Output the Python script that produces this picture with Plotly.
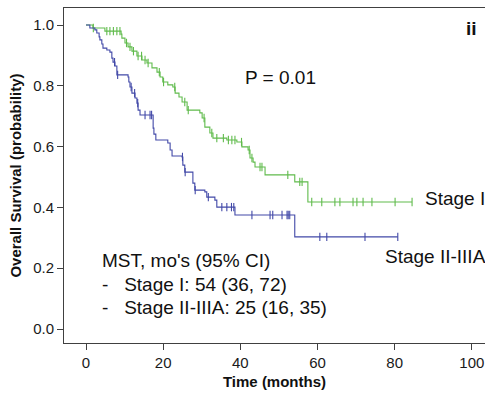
import plotly.graph_objects as go

# Stage I (green) Kaplan-Meier steps: time (months), survival after step
stage1_t = [0, 1.8, 4.9, 9.1, 9.3, 10.1, 10.9, 11.9, 13.2, 14.5, 15.8, 17.1, 18.4, 19.2, 19.9,
            21.2, 22.5, 23.1, 24.1, 24.9, 26.2, 29.5, 30.1, 30.8, 32.1, 32.9, 36.5, 39.1, 40.4,
            42.0, 42.5, 43.3, 43.8, 46.4, 54.1, 57.5, 84.5]
stage1_s = [1.0, 0.990, 0.980, 0.970, 0.957, 0.941, 0.928, 0.914, 0.898, 0.885, 0.875, 0.859, 0.845,
            0.829, 0.8125, 0.803, 0.796, 0.776, 0.763, 0.747, 0.720, 0.711, 0.694, 0.664, 0.645,
            0.628, 0.622, 0.615, 0.599, 0.589, 0.5625, 0.549, 0.533, 0.507, 0.484, 0.418, 0.418]
stage1_cens = [1.9, 5.4, 6.2, 7.1, 8.0, 8.8, 10.5, 11.4, 12.3, 13.5, 14.4, 15.3, 16.1, 19.0, 20.1,
               23.0, 25.6, 26.5, 30.6, 32.6, 33.9, 35.6, 36.9, 37.8, 38.6, 40.3, 42.3, 43.0, 45.1,
               45.6, 52.3, 55.4, 56.0, 58.5, 61.1, 64.5, 65.8, 69.2, 70.2, 71.8, 74.1, 80.1, 84.5]

# Stage II-IIIA (blue)
stage2_t = [0, 1.0, 2.3, 2.8, 3.4, 3.6, 4.1, 4.4, 5.4, 6.2, 6.7, 7.0, 7.5, 8.0, 10.9, 11.1, 11.4,
            11.9, 12.7, 13.2, 13.5, 14.0, 17.4, 17.6, 18.1, 21.2, 21.8, 22.3, 24.9, 25.1, 25.6,
            27.7, 28.2, 30.8, 31.3, 33.4, 33.9, 38.6, 54.1, 80.8]
stage2_s = [1.0, 0.990, 0.984, 0.974, 0.961, 0.951, 0.9375, 0.924, 0.918, 0.911, 0.891, 0.878,
            0.865, 0.836, 0.829, 0.8125, 0.796, 0.776, 0.760, 0.743, 0.720, 0.704, 0.661, 0.641,
            0.622, 0.612, 0.589, 0.569, 0.566, 0.539, 0.516, 0.480, 0.457, 0.451, 0.434, 0.424,
            0.401, 0.375, 0.303, 0.303]
stage2_cens = [7.4, 8.2, 11.7, 12.6, 13.4, 15.3, 16.6, 17.0, 25.0, 25.7, 28.3, 31.7, 35.2, 36.5,
               37.7, 38.3, 43.0, 47.7, 48.4, 50.8, 52.1, 52.4, 52.8, 60.6, 62.4, 72.3, 80.8]

x_ticks = [0, 20, 40, 60, 80, 100]
y_ticks = [0.0, 0.2, 0.4, 0.6, 0.8, 1.0]
y_tick_labels = ["0.0", "0.2", "0.4", "0.6", "0.8", "1.0"]

mst_lines = ["MST, mo's (95% CI)", "-   Stage I: 54 (36, 72)", "-   Stage II-IIIA: 25 (16, 35)"]

GREEN = "#60bb4c"
BLUE = "#4249a8"
FONT = "Liberation Sans, Arial, sans-serif"


def step_at(times, surv, t):
    val = surv[0]
    for ti, si in zip(times, surv):
        if ti <= t:
            val = si
        else:
            break
    return val


fig = go.Figure()
for t, s, c, col in [(stage1_t, stage1_s, stage1_cens, GREEN),
                     (stage2_t, stage2_s, stage2_cens, BLUE)]:
    fig.add_trace(go.Scatter(x=t, y=s, mode="lines", line=dict(color=col, width=1.1, shape="hv"),
                             hoverinfo="skip", showlegend=False))
    fig.add_trace(go.Scatter(x=c, y=[step_at(t, s, ci) for ci in c], mode="markers",
                             marker=dict(symbol="line-ns-open", size=6, color=col,
                                         line=dict(color=col, width=1.1)),
                             hoverinfo="skip", showlegend=False))

axis_common = dict(showgrid=False, zeroline=False, showline=True, linecolor="#404040", linewidth=1,
                   ticks="outside", ticklen=6, tickcolor="#404040", tickwidth=1,
                   tickfont=dict(family=FONT, size=15, color="#1a1a1a"))

fig.update_layout(
    width=485, height=399,
    margin=dict(l=64, r=0, t=8, b=56),
    paper_bgcolor="white", plot_bgcolor="white",
    xaxis=dict(range=[-5.7, 103.4], tickvals=x_ticks, mirror=True,
               title=dict(text="<b>Time (months)</b>", font=dict(family=FONT, size=15, color="#111"),
                          standoff=6),
               **axis_common),
    yaxis=dict(range=[-0.046, 1.056], tickvals=y_ticks, ticktext=y_tick_labels,
               title=dict(text="<b>Overall Survival (probability)</b>",
                          font=dict(family=FONT, size=15, color="#111"), standoff=7),
               **axis_common),
)

ann_font = dict(family=FONT, size=19, color="#111")
fig.add_annotation(x=40.7, y=0.826, xref="x", yref="y", text="P = 0.01", showarrow=False,
                   xanchor="left", yanchor="middle", font=ann_font)
fig.add_annotation(x=87.3, y=0.431, xref="x", yref="y", text="Stage I", showarrow=False,
                   xanchor="left", yanchor="middle", font=ann_font)
fig.add_annotation(x=76.9, y=0.237, xref="x", yref="y", text="Stage II-IIIA", showarrow=False,
                   xanchor="left", yanchor="middle", font=ann_font)
fig.add_annotation(x=100.0, y=0.987, xref="x", yref="y", text="<b>ii</b>", showarrow=False,
                   xanchor="center", yanchor="middle", font=dict(family=FONT, size=19, color="#111"))
for line, yv in zip(mst_lines, [0.224, 0.148, 0.072]):
    fig.add_annotation(x=3.6, y=yv, xref="x", yref="y", text=line, showarrow=False,
                       xanchor="left", yanchor="middle", font=ann_font)

fig.write_html("out.html")
